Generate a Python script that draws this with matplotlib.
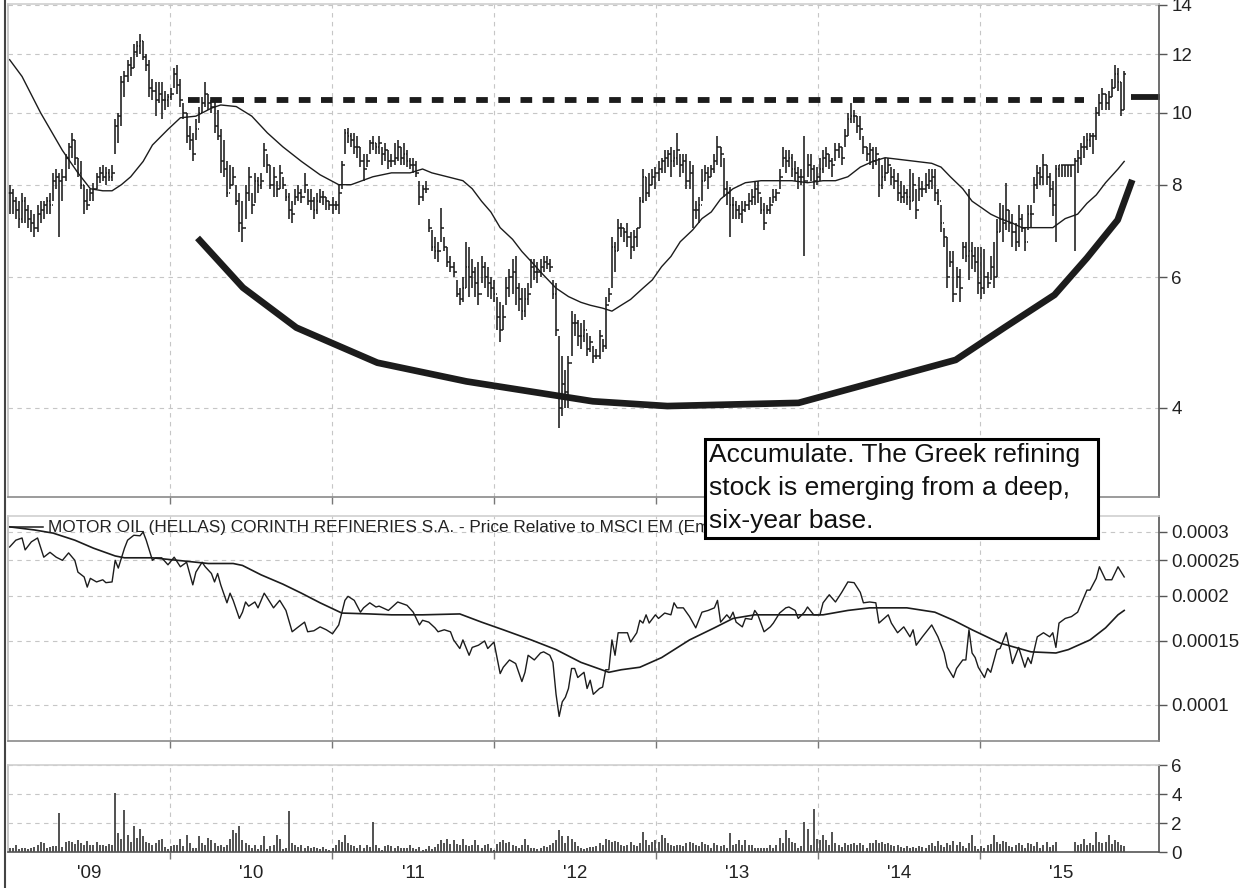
import numpy as np
import matplotlib
matplotlib.use('Agg')
import matplotlib.pyplot as plt
from matplotlib.patches import Rectangle
from matplotlib.lines import Line2D
from matplotlib.ticker import FixedLocator, FixedFormatter, NullLocator

plt.rcParams['font.family'] = ['Liberation Sans', 'DejaVu Sans']

# weekly bars, first week = first week of Jan 2009
high = [
    8.0, 7.9, 7.7, 7.6, 7.8, 7.7, 7.5, 7.4, 7.3, 7.5, 7.6, 7.6, 7.7,
    7.8, 8.3, 8.4, 8.3, 8.4, 8.8, 9.1, 9.4, 9.2, 8.7, 8.6, 8.0, 7.9,
    7.9, 8.05, 8.3, 8.45, 8.5, 8.45, 8.4, 8.5, 9.8, 10.0, 11.2, 11.4, 11.8,
    11.9, 12.4, 12.5, 12.8, 12.5, 12.0, 11.8, 11.1, 11.0, 11.0, 11.0, 10.7, 10.6,
    10.8, 11.5, 11.6, 11.1, 10.3, 10.0, 9.6, 9.4, 9.8, 10.2, 10.5, 11.0, 10.6,
    10.4, 10.4, 10.1, 9.5, 9.2, 8.6, 8.5, 8.45, 8.0, 7.8, 7.6, 8.0, 8.45,
    7.8, 8.3, 8.2, 8.3, 9.1, 8.8, 8.5, 8.45, 8.1, 8.5, 8.2, 7.9, 7.8,
    7.6, 7.9, 8.0, 7.9, 8.3, 7.9, 7.9, 7.7, 7.8, 7.9, 7.85, 7.7, 7.6,
    7.7, 7.6, 8.0, 8.6, 9.5, 9.55, 9.4, 9.4, 9.3, 9.0, 8.8, 8.8, 9.2,
    9.3, 9.1, 9.3, 9.0, 9.1, 8.9, 8.8, 9.1, 9.2, 9.0, 9.1, 8.9, 8.7,
    8.7, 8.6, 8.1, 8.0, 8.1, 7.2, 6.95, 6.8, 6.7, 7.45, 6.8, 6.6, 6.4,
    6.3, 5.95, 5.8, 6.0, 6.7, 6.6, 6.35, 6.2, 6.3, 6.4, 6.3, 6.2, 6.0, 5.95,
    5.65, 5.55, 5.5, 6.0, 6.15, 6.35, 6.4, 5.9, 5.8, 5.8, 5.9, 6.35, 6.35,
    6.3, 6.35, 6.4, 6.4, 6.35, 5.95, 5.9, 5.0, 4.7, 4.5, 4.7, 5.4, 5.35,
    5.25, 5.2, 5.25, 5.05, 5.0, 4.85, 4.8, 5.1, 4.95, 5.65, 5.8, 6.8, 6.7,
    7.2, 7.1, 7.0, 7.1, 6.9, 6.95, 7.0, 7.7, 8.4, 8.2, 8.3, 8.4, 8.45,
    8.6, 8.7, 8.9, 8.9, 9.0, 8.9, 9.4, 8.8, 8.8, 8.8, 8.6, 8.5, 7.6,
    7.7, 8.4, 8.5, 8.45, 8.5, 8.8, 9.3, 9.0, 8.7, 8.1, 7.95, 7.7, 7.6,
    7.5, 7.6, 7.6, 7.8, 7.9, 8.1, 8.1, 7.7, 7.55, 7.5, 7.7, 7.9, 7.9,
    8.4, 9.0, 8.9, 8.9, 8.8, 8.6, 8.45, 8.4, 9.3, 8.8, 8.8, 8.5, 8.45, 8.7,
    8.9, 9.0, 8.8, 8.7, 9.1, 9.1, 9.0, 9.5, 10.0, 10.3, 10.1, 9.9, 9.9,
    9.3, 9.0, 9.1, 9.0, 9.0, 8.7, 8.5, 8.7, 8.7, 8.45, 8.4, 8.3, 8.1,
    8.0, 7.9, 8.4, 8.3, 7.9, 8.2, 8.1, 8.3, 8.4, 8.4, 8.4, 7.9, 7.5,
    7.0, 6.8, 6.5, 6.5, 6.2, 6.15, 6.7, 6.7, 7.9, 6.7, 6.6, 6.6, 6.6,
    6.55, 6.1, 6.4, 6.7, 7.2, 7.55, 7.5, 8.05, 7.4, 7.3, 7.1, 7.5, 7.3,
    7.0, 7.5, 7.5, 8.2, 8.5, 8.45, 8.8, 8.5, 8.3, 8.1, 8.5, 8.5, 8.5,
    8.5, 8.5, 8.5, 8.7, 8.9, 9.1, 9.3, 9.4, 9.4, 9.4, 10.2, 10.6, 10.8,
    10.6, 10.7, 11.1, 11.6, 11.5, 11.0, 11.4,
]
low = [
    7.3, 7.3, 7.2, 7.0, 7.1, 7.1, 7.0, 6.9, 6.8, 6.9, 7.1, 7.2, 7.3,
    7.3, 7.6, 7.9, 6.8, 7.6, 8.1, 8.4, 8.7, 8.5, 8.2, 7.9, 7.3, 7.4,
    7.6, 7.6, 7.9, 8.05, 8.1, 8.0, 8.1, 8.1, 8.8, 9.1, 9.6, 10.5, 11.0,
    11.2, 11.5, 11.9, 12.0, 11.8, 11.4, 10.5, 10.4, 9.9, 10.3, 9.8, 10.1, 10.2,
    10.4, 10.8, 10.6, 10.2, 9.8, 9.1, 8.9, 8.6, 9.2, 9.7, 10.0, 10.2, 10.1,
    10.0, 9.4, 9.2, 8.3, 8.2, 7.7, 7.9, 8.0, 7.5, 6.9, 6.7, 7.2, 7.6,
    7.3, 7.55, 7.8, 7.9, 8.45, 8.3, 7.9, 7.7, 7.7, 7.9, 7.9, 7.6, 7.2,
    7.1, 7.5, 7.6, 7.55, 7.8, 7.5, 7.4, 7.2, 7.3, 7.55, 7.5, 7.4, 7.4,
    7.3, 7.4, 7.3, 7.9, 8.8, 9.1, 9.0, 8.8, 8.7, 8.45, 8.1, 8.45, 8.8,
    8.9, 8.8, 8.8, 8.5, 8.6, 8.4, 8.45, 8.5, 8.6, 8.5, 8.5, 8.45, 8.4,
    8.3, 8.2, 7.5, 7.6, 7.8, 6.9, 6.5, 6.35, 6.3, 6.7, 6.5, 6.2, 6.1,
    6.0, 5.65, 5.5, 5.55, 5.8, 5.65, 5.8, 5.65, 5.5, 5.9, 5.8, 5.65, 5.6, 5.55,
    5.1, 4.9, 5.1, 5.5, 5.65, 5.7, 5.5, 5.4, 5.25, 5.3, 5.5, 5.8, 5.95,
    5.9, 6.0, 6.1, 6.15, 6.1, 5.6, 5.0, 3.75, 3.9, 4.0, 4.0, 4.7, 5.0,
    4.85, 4.8, 4.9, 4.7, 4.75, 4.6, 4.65, 4.65, 4.75, 4.8, 5.55, 5.8, 6.1,
    6.5, 6.8, 6.7, 6.6, 6.35, 6.5, 6.6, 7.0, 7.55, 7.6, 7.7, 8.0, 7.9,
    8.1, 8.3, 8.3, 8.45, 8.2, 8.45, 8.5, 8.2, 8.3, 7.9, 7.9, 7.0, 7.2,
    7.1, 7.6, 8.1, 7.9, 8.2, 8.3, 8.5, 8.45, 7.7, 7.5, 6.8, 7.2, 7.2,
    7.2, 7.1, 7.35, 7.4, 7.5, 7.5, 7.55, 7.3, 6.95, 7.3, 7.3, 7.55, 7.6,
    7.9, 8.45, 8.3, 8.45, 8.2, 8.1, 7.9, 8.0, 6.4, 8.2, 8.1, 7.9, 8.0, 8.1,
    8.3, 8.45, 8.4, 8.2, 8.6, 8.7, 8.5, 9.0, 9.3, 9.7, 9.7, 9.4, 9.2,
    8.8, 8.6, 8.5, 8.4, 8.5, 7.7, 7.9, 8.1, 8.3, 8.0, 7.9, 7.6, 7.55,
    7.55, 7.5, 7.4, 7.6, 7.2, 7.6, 7.7, 7.8, 7.9, 7.9, 7.6, 7.5, 6.9,
    6.6, 5.8, 6.2, 5.55, 5.8, 5.55, 6.35, 6.3, 5.95, 6.15, 6.1, 5.7, 5.6,
    5.7, 5.8, 5.95, 5.8, 6.0, 6.9, 6.7, 6.95, 6.9, 6.6, 6.5, 6.6, 6.9,
    6.5, 6.95, 7.0, 7.55, 7.9, 8.0, 8.0, 8.0, 7.7, 7.25, 6.7, 8.2, 8.2,
    8.2, 8.2, 8.2, 6.5, 8.3, 8.5, 8.7, 8.9, 9.0, 8.8, 9.2, 9.9, 10.1,
    10.1, 10.1, 10.5, 10.8, 10.7, 9.9, 10.1,
]
close = [
    7.8, 7.6, 7.4, 7.2, 7.6, 7.4, 7.2, 7.1, 7.0, 7.3, 7.4, 7.5, 7.6,
    7.5, 8.1, 8.2, 8.1, 8.2, 8.7, 9.0, 9.2, 8.7, 8.3, 8.0, 7.6, 7.5,
    7.8, 7.9, 8.2, 8.3, 8.2, 8.3, 8.2, 8.3, 9.6, 9.9, 11.0, 11.2, 11.6,
    11.5, 12.1, 12.3, 12.5, 11.9, 11.6, 10.8, 10.7, 10.4, 10.6, 10.4, 10.4, 10.5,
    10.6, 11.3, 10.9, 10.4, 10.0, 9.3, 9.2, 8.8, 9.5, 10.0, 10.3, 10.6, 10.3,
    10.2, 9.6, 9.3, 8.6, 8.4, 7.8, 8.0, 8.2, 7.6, 7.1, 7.0, 7.8, 8.2,
    7.5, 8.1, 8.0, 8.1, 8.9, 8.5, 8.0, 8.2, 7.9, 8.3, 8.0, 7.7, 7.4,
    7.3, 7.7, 7.8, 7.7, 8.0, 7.6, 7.6, 7.4, 7.6, 7.7, 7.7, 7.6, 7.5,
    7.5, 7.5, 7.8, 8.5, 9.4, 9.3, 9.2, 9.0, 9.0, 8.6, 8.4, 8.6, 9.1,
    9.1, 9.0, 9.1, 8.8, 8.9, 8.6, 8.6, 8.7, 9.0, 8.7, 8.8, 8.6, 8.5,
    8.5, 8.3, 7.7, 7.9, 7.9, 7.0, 6.6, 6.5, 6.5, 7.0, 6.6, 6.3, 6.2,
    6.1, 5.7, 5.6, 5.8, 6.2, 6.0, 6.1, 5.9, 5.7, 6.2, 6.0, 5.9, 5.8, 5.7,
    5.3, 5.1, 5.3, 5.8, 6.0, 6.1, 5.8, 5.6, 5.4, 5.6, 5.7, 6.2, 6.1,
    6.1, 6.2, 6.3, 6.25, 6.2, 5.7, 5.1, 4.0, 4.3, 4.2, 4.6, 5.2, 5.2,
    5.0, 5.0, 5.1, 4.8, 4.9, 4.7, 4.7, 5.0, 4.85, 5.5, 5.7, 6.6, 6.5,
    7.0, 7.0, 6.9, 6.8, 6.6, 6.8, 7.0, 7.6, 8.2, 7.8, 8.0, 8.2, 8.3,
    8.4, 8.6, 8.7, 8.8, 8.6, 8.7, 8.9, 8.5, 8.6, 8.1, 8.3, 7.4, 7.4,
    7.5, 8.1, 8.3, 8.2, 8.4, 8.6, 9.0, 8.8, 7.9, 7.8, 7.5, 7.5, 7.4,
    7.3, 7.4, 7.5, 7.6, 7.7, 7.9, 7.8, 7.4, 7.1, 7.4, 7.5, 7.7, 7.8,
    8.2, 8.7, 8.6, 8.7, 8.4, 8.3, 8.2, 8.2, 8.1, 8.5, 8.4, 8.1, 8.2, 8.4,
    8.7, 8.8, 8.6, 8.5, 8.9, 9.0, 8.7, 9.3, 9.8, 9.9, 9.9, 9.6, 9.5,
    9.0, 8.8, 8.9, 8.6, 8.8, 8.0, 8.2, 8.3, 8.5, 8.2, 8.1, 7.8, 7.7,
    7.8, 7.7, 7.6, 8.0, 7.4, 7.9, 7.9, 8.0, 8.1, 8.2, 7.8, 7.6, 7.1,
    6.8, 6.0, 6.3, 5.7, 6.0, 5.8, 6.6, 6.4, 6.5, 6.4, 6.3, 5.9, 5.8,
    6.0, 5.9, 6.2, 6.0, 6.9, 7.2, 7.1, 7.4, 7.1, 6.9, 6.7, 7.2, 7.0,
    6.7, 7.3, 7.3, 8.0, 8.3, 8.2, 8.5, 8.2, 7.9, 7.5, 8.4, 8.5, 8.5,
    8.5, 8.5, 8.5, 8.6, 8.7, 9.0, 9.0, 9.2, 9.3, 9.3, 10.0, 10.3, 10.6,
    10.3, 10.5, 10.8, 11.3, 11.0, 10.1, 11.3,
]

# moving average of price (week index, value)
ma_week = [0, 4, 10, 17, 22, 26, 30, 33, 36, 39,
           43, 46, 51, 55, 60, 65, 68, 73, 78, 83,
           88, 94, 100, 106, 110, 117, 123, 129, 133, 136,
           141, 146, 149, 152, 155, 158, 162, 165, 168, 171,
           176, 180, 184, 187, 191, 194, 197, 200, 204, 207,
           210, 213, 216, 220, 223, 226, 229, 233, 237, 242,
           247, 252, 257, 262, 266, 270, 274, 278, 282, 287,
           292, 297, 300, 303, 307, 310, 313, 316, 319, 323,
           326, 329, 332, 336, 340, 344, 347, 350, 353, 357, 359]
ma_price = [11.8, 11.2, 10.0, 8.9, 8.3, 7.9, 7.85, 7.85, 8.0, 8.2,
            8.6, 9.05, 9.5, 9.85, 9.9, 10.15, 10.25, 10.2, 9.9, 9.4,
            9.0, 8.6, 8.25, 8.0, 8.0, 8.2, 8.3, 8.3, 8.4, 8.3,
            8.2, 8.1, 7.9, 7.6, 7.35, 7.0, 6.75, 6.5, 6.3, 6.1,
            5.8, 5.65, 5.55, 5.5, 5.45, 5.4, 5.5, 5.6, 5.8, 5.95,
            6.2, 6.4, 6.7, 6.95, 7.2, 7.35, 7.65, 7.9, 8.05, 8.1,
            8.1, 8.1, 8.05, 8.1, 8.1, 8.2, 8.45, 8.6, 8.7, 8.65,
            8.6, 8.55, 8.45, 8.2, 7.9, 7.6, 7.45, 7.3, 7.2, 7.1,
            7.0, 7.0, 7.0, 7.0, 7.2, 7.3, 7.55, 7.75, 8.05, 8.4, 8.6]

# price relative to MSCI EM, in units of 1e-4
rel_week = [0, 2, 4, 5, 7, 9, 11, 13, 15, 17,
            19, 21, 22, 24, 25, 26, 28, 30, 31, 33,
            34, 35, 37, 38, 40, 42, 43, 44, 46, 47,
            49, 51, 53, 55, 57, 59, 60, 62, 63, 65,
            66, 67, 68, 70, 71, 72, 74, 75, 76, 77,
            79, 80, 82, 83, 85, 87, 89, 91, 93, 95,
            96, 98, 100, 102, 104, 106, 108, 109, 111, 113,
            114, 116, 118, 119, 122, 125, 128, 130, 132, 133,
            135, 137, 138, 140, 142, 143, 145, 146, 148, 149,
            151, 153, 154, 156, 157, 158, 159, 161, 163, 165,
            166, 167, 169, 171, 172, 174, 175, 176, 177, 178,
            179, 180, 181, 182, 183, 185, 186, 187, 188, 190,
            191, 192, 193, 194, 195, 196, 198, 199, 200, 202,
            203, 204, 205, 206, 208, 209, 211, 213, 214, 215,
            217, 219, 221, 223, 225, 227, 228, 229, 231, 232,
            233, 234, 236, 237, 239, 240, 241, 243, 245, 246,
            248, 250, 251, 253, 254, 256, 257, 259, 261, 262,
            264, 266, 268, 270, 272, 274, 275, 277, 279, 280,
            281, 283, 284, 286, 288, 290, 291, 292, 294, 297,
            299, 301, 302, 304, 305, 307, 308, 309, 310, 311,
            312, 314, 315, 316, 318, 319, 321, 322, 323, 325,
            327, 328, 329, 331, 333, 335, 336, 337, 338, 340,
            342, 344, 347, 348, 350, 351, 353, 355, 357, 359]
rel_value = [2.72, 2.84, 2.88, 2.67, 2.81, 2.88, 2.55, 2.63, 2.55, 2.50,
             2.62, 2.50, 2.32, 2.25, 2.11, 2.23, 2.18, 2.21, 2.17, 2.18,
             2.50, 2.38, 2.70, 2.84, 2.93, 2.92, 2.99, 2.84, 2.50, 2.54,
             2.54, 2.43, 2.55, 2.40, 2.47, 2.14, 2.32, 2.47, 2.40, 2.30,
             2.18, 2.30, 2.14, 1.91, 2.03, 1.94, 1.73, 1.80, 1.92, 1.87,
             1.92, 1.85, 2.03, 1.97, 1.85, 1.94, 1.82, 1.59, 1.64, 1.69,
             1.59, 1.60, 1.64, 1.61, 1.57, 1.66, 1.94, 1.99, 1.94, 1.80,
             1.85, 1.91, 1.86, 1.87, 1.82, 1.92, 1.88, 1.80, 1.66, 1.71,
             1.69, 1.63, 1.59, 1.61, 1.59, 1.51, 1.43, 1.51, 1.37, 1.44,
             1.46, 1.50, 1.43, 1.49, 1.35, 1.22, 1.27, 1.33, 1.30, 1.16,
             1.23, 1.37, 1.33, 1.39, 1.40, 1.37, 1.31, 1.07, 0.93, 1.02,
             1.05, 1.11, 1.26, 1.26, 1.19, 1.23, 1.11, 1.17, 1.07, 1.11,
             1.12, 1.25, 1.25, 1.51, 1.37, 1.58, 1.58, 1.58, 1.49, 1.58,
             1.71, 1.68, 1.77, 1.68, 1.77, 1.73, 1.79, 1.77, 1.91, 1.85,
             1.85, 1.75, 1.63, 1.80, 1.82, 1.85, 1.94, 1.69, 1.77, 1.73,
             1.80, 1.69, 1.64, 1.73, 1.72, 1.82, 1.77, 1.59, 1.64, 1.68,
             1.79, 1.85, 1.86, 1.82, 1.73, 1.80, 1.86, 1.77, 1.77, 1.91,
             2.01, 1.92, 2.04, 2.18, 2.17, 2.04, 1.91, 1.92, 1.91, 1.68,
             1.71, 1.77, 1.68, 1.58, 1.64, 1.54, 1.61, 1.46, 1.54, 1.66,
             1.54, 1.39, 1.27, 1.19, 1.26, 1.33, 1.33, 1.61, 1.39, 1.35,
             1.27, 1.19, 1.26, 1.23, 1.42, 1.43, 1.58, 1.44, 1.30, 1.44,
             1.27, 1.35, 1.30, 1.54, 1.58, 1.54, 1.58, 1.44, 1.68, 1.73,
             1.75, 1.80, 2.07, 2.07, 2.23, 2.40, 2.21, 2.21, 2.40, 2.25]

# moving average of the relative line (week index, 1e-4)
rel_ma_week = [0, 8, 14, 21, 27, 34, 37, 46, 56, 64,
               72, 75, 81, 88, 94, 100, 107, 116, 123, 133,
               145, 152, 159, 168, 176, 184, 193, 197, 203, 210,
               219, 227, 233, 240, 251, 262, 270, 277, 289, 298,
               304, 310, 319, 329, 337, 341, 348, 353, 357, 359]
rel_ma_value = [3.09, 3.03, 2.97, 2.84, 2.70, 2.57, 2.54, 2.54, 2.49, 2.45,
                2.45, 2.42, 2.28, 2.15, 2.03, 1.91, 1.79, 1.78, 1.77, 1.77,
                1.78, 1.69, 1.61, 1.51, 1.42, 1.31, 1.23, 1.25, 1.27, 1.35,
                1.51, 1.63, 1.73, 1.77, 1.77, 1.77, 1.82, 1.85, 1.85, 1.80,
                1.71, 1.61, 1.48, 1.40, 1.39, 1.42, 1.51, 1.63, 1.77, 1.82]

# weekly volume
volume = [
    0.25, 0.3, 0.45, 0.2, 0.25, 0.3, 0.2, 0.3, 0.35, 0.5, 0.7, 0.65, 0.3,
    0.35, 0.4, 0.4, 2.7, 0.35, 0.7, 0.75, 0.7, 0.55, 0.8, 0.6, 0.45, 0.75,
    0.5, 0.45, 0.7, 0.5, 0.45, 0.4, 0.55, 0.5, 4.1, 1.3, 0.9, 2.9, 1.2,
    0.7, 1.8, 1.0, 1.6, 1.1, 0.7, 0.65, 0.5, 0.6, 0.8, 0.9, 0.35, 0.2,
    0.4, 0.5, 0.5, 0.9, 0.4, 1.2, 0.65, 0.3, 0.25, 1.1, 0.6, 0.5, 1.0,
    0.8, 0.6, 0.4, 0.45, 0.35, 0.5, 0.9, 1.5, 1.3, 1.8, 0.8, 0.6, 0.5,
    0.3, 0.45, 0.2, 0.5, 1.1, 0.2, 0.4, 0.5, 1.2, 0.9, 0.2, 0.3, 2.8,
    0.6, 0.45, 0.35, 0.5, 0.3, 0.4, 0.3, 0.35, 0.3, 0.2, 0.35, 0.2, 0.15,
    0.3, 0.5, 0.8, 0.7, 1.2, 0.6, 0.5, 0.4, 0.3, 0.45, 0.3, 0.5, 0.35,
    2.1, 0.45, 0.3, 0.15, 0.4, 0.45, 0.4, 0.3, 0.4, 0.25, 0.3, 0.25, 0.45,
    0.3, 0.2, 0.35, 0.15, 0.2, 0.4, 0.2, 0.35, 0.55, 0.8, 0.6, 0.9, 0.55,
    0.85, 0.55, 0.45, 0.9, 0.45, 0.4, 0.5, 0.8, 0.45, 0.3, 0.45, 0.55, 0.3, 0.15,
    0.55, 0.7, 0.8, 0.6, 0.7, 0.5, 0.4, 0.3, 0.45, 0.9, 0.45, 0.3, 0.3,
    0.2, 0.3, 0.4, 0.35, 0.45, 0.6, 0.8, 1.5, 1.1, 0.6, 1.1, 0.9, 0.7,
    0.4, 0.3, 0.2, 0.3, 0.35, 0.35, 0.4, 0.6, 0.5, 0.9, 0.85, 0.7, 0.75,
    0.7, 0.5, 0.4, 0.45, 0.7, 0.5, 0.4, 0.6, 1.4, 0.8, 0.5, 0.7, 0.8,
    0.7, 1.2, 1.0, 0.6, 0.5, 0.4, 0.5, 0.5, 0.4, 0.6, 0.7, 0.6, 0.5,
    0.4, 0.7, 0.55, 0.5, 0.3, 0.65, 0.45, 0.4, 0.45, 0.3, 1.3, 0.45, 0.55,
    0.8, 0.5, 0.8, 0.5, 0.45, 0.3, 0.3, 0.25, 0.3, 0.3, 0.5, 0.3, 0.5,
    1.0, 0.6, 1.5, 1.0, 0.7, 0.6, 0.3, 0.4, 2.1, 1.6, 0.5, 3.0, 0.9, 0.8,
    1.2, 0.8, 0.5, 1.4, 0.6, 0.45, 0.35, 0.6, 0.5, 0.55, 0.6, 0.45, 0.65,
    0.5, 0.3, 0.6, 0.65, 0.8, 0.6, 0.7, 0.55, 0.6, 0.45, 0.4, 0.45, 0.35,
    0.3, 0.4, 0.3, 0.35, 0.25, 0.4, 0.35, 0.3, 0.5, 0.6, 0.4, 0.75, 0.5,
    0.35, 0.6, 0.45, 0.75, 0.5, 0.7, 0.4, 0.3, 0.6, 1.15, 0.4, 0.2, 0.4,
    0.3, 0.5, 0.55, 1.2, 0.7, 0.55, 0.75, 0.7, 0.4, 0.35, 0.5, 0.6, 0.45,
    0.3, 0.6, 0.55, 0.4, 0.7, 0.3, 0.45, 0.7, 0.35, 0.5, 0.7, 0.0, 0.0,
    0.0, 0.0, 0.0, 0.7, 0.5, 0.55, 0.9, 0.45, 0.6, 0.5, 1.4, 0.7, 0.6,
    0.7, 1.2, 0.55, 0.8, 0.7, 0.5, 0.4,
]

# hand-drawn base curve and resistance (decimal years, price)
base_year = [2010.17, 2010.45, 2010.78, 2011.28, 2011.83, 2012.61, 2013.07,
             2013.88, 2014.85, 2015.15, 2015.46, 2015.66, 2015.85, 2015.94]
base_price = [6.78, 5.81, 5.13, 4.60, 4.34, 4.08, 4.02,
              4.06, 4.64, 5.13, 5.68, 6.37, 7.17, 8.12]
resistance_years = [2010.11, 2015.64]
resistance_price = 10.4
last_mark_years = [2015.93, 2016.11]
last_mark_price = 10.5

year_starts = [2010, 2011, 2012, 2013, 2014, 2015]
year_mids = [2009.5, 2010.5, 2011.5, 2012.5, 2013.5, 2014.5, 2015.5]
year_labels = ["'09", "'10", "'11", "'12", "'13", "'14", "'15"]
price_ticks = [4, 6, 8, 10, 12, 14]
rel_ticks = [0.0001, 0.00015, 0.0002, 0.00025, 0.0003]
rel_tick_labels = ['0.0001', '0.00015', '0.0002', '0.00025', '0.0003']
vol_ticks = [0, 2, 4, 6]

legend_text = ('MOTOR OIL (HELLAS) CORINTH REFINERIES S.A. - Price Relative to '
               'MSCI EM (Emerging Markets)')
note_text = ('Accumulate. The Greek refining\nstock is emerging from a deep,\n'
             'six-year base.')


def week_to_year(w):
    return 2009.01 + np.asarray(w, dtype=float) * 7 / 365.25


INK = '#1c1c1c'
GRID = '#c6c6c6'

fig = plt.figure(figsize=(12.47, 8.88), dpi=100)
W, H = 1247, 888
left, right = 8, 1159
box_l, box_r, box_t, box_b = 705, 1098, 439, 538


def panel(top, bottom):
    return fig.add_axes([left / W, 1 - bottom / H, (right - left) / W, (bottom - top) / H])


ax1 = panel(4, 497)
ax2 = panel(516, 741)
ax3 = panel(765, 852)

for ax in (ax1, ax2, ax3):
    ax.set_xlim(2009.0, 2016.105)
    ax.xaxis.set_major_locator(FixedLocator(year_starts))
    ax.xaxis.set_major_formatter(FixedFormatter([''] * len(year_starts)))
    ax.yaxis.tick_right()
    ax.tick_params(axis='x', which='major', direction='out', length=5,
                   color='#777777', width=1.0)
    ax.tick_params(axis='y', which='both', direction='out', length=6,
                   color='#555555', width=1.0, labelsize=13.5,
                   labelcolor='#222222', pad=3)
    ax.grid(True, which='major', color=GRID, linestyle=(0, (4, 4)), lw=0.8)
    ax.set_axisbelow(True)
    ax.spines['top'].set_color('#cfcfcf')
    ax.spines['left'].set_color('#bdbdbd')
    ax.spines['right'].set_color('#555555')
    ax.spines['bottom'].set_color('#8a8a8a')
    for s in ax.spines.values():
        s.set_linewidth(1.2)

# ---- top panel: price bars
x = week_to_year(np.arange(len(close)))
opens = [close[0]] + close[:-1]
d = 0.009
ax1.vlines(x, low, high, color=INK, lw=1.15)
ax1.hlines(opens, x - d, x, color=INK, lw=1.1)
ax1.hlines(close, x, x + d, color=INK, lw=1.1)
ax1.plot(week_to_year(ma_week), ma_price, color=INK, lw=1.0)
ax1.plot(resistance_years, [resistance_price] * 2, color=INK, lw=4.2,
         dashes=(2.0, 1.8), solid_capstyle='butt')
ax1.plot(last_mark_years, [last_mark_price] * 2, color=INK, lw=4.2,
         solid_capstyle='butt', clip_on=False)
ax1.plot(base_year, base_price, color=INK, lw=4.8, solid_joinstyle='round',
         solid_capstyle='butt')
ax1.set_yscale('log')
ax1.set_ylim(3.03, 14.03)
ax1.yaxis.set_major_locator(FixedLocator(price_ticks))
ax1.yaxis.set_major_formatter(FixedFormatter([str(t) for t in price_ticks]))
ax1.yaxis.set_minor_locator(NullLocator())

# ---- middle panel: relative strength
ax2.plot(week_to_year(rel_week), np.array(rel_value) * 1e-4, color=INK, lw=1.0)
ax2.plot(week_to_year(rel_ma_week), np.array(rel_ma_value) * 1e-4, color=INK, lw=1.2)
ax2.set_yscale('log')
ax2.set_ylim(0.796e-4, 3.31e-4)
ax2.yaxis.set_major_locator(FixedLocator(rel_ticks))
ax2.yaxis.set_major_formatter(FixedFormatter(rel_tick_labels))
ax2.yaxis.set_minor_locator(NullLocator())
ax2.add_line(Line2D([0.002, 0.030], [0.951, 0.951], color=INK, lw=1.1,
                    transform=ax2.transAxes))
legend = ax2.text(0.0348, 0.951, legend_text, transform=ax2.transAxes,
                  fontsize=12.4, color='#222222', ha='left', va='center')
# the comment box hides the end of the legend: clip it at the box edge
legend.set_clip_path(Rectangle((0, 0), (box_l - left) / (right - left), 1,
                               transform=ax2.transAxes))

# ---- bottom panel: volume
ax3.vlines(x, 0, volume, color='#333333', lw=1.2)
ax3.set_ylim(0, 6)
ax3.yaxis.set_major_locator(FixedLocator(vol_ticks))
ax3.yaxis.set_major_formatter(FixedFormatter([str(t) for t in vol_ticks]))
ax3.spines['bottom'].set_color('#555555')
ax3.xaxis.set_minor_locator(FixedLocator(year_mids))
ax3.xaxis.set_minor_formatter(FixedFormatter(year_labels))
ax3.tick_params(axis='x', which='minor', length=0, labelsize=13.5,
                labelcolor='#222222', pad=9)

# figure left border
fig.add_artist(Line2D([5 / W, 5 / W], [0, 1], color='#444444', lw=1.5,
                      transform=fig.transFigure))

# comment box
fig.add_artist(Rectangle((box_l / W, 1 - box_b / H), (box_r - box_l) / W,
                         (box_b - box_t) / H, facecolor='white',
                         edgecolor='black', lw=2.2,
                         transform=fig.transFigure, zorder=10))
fig.text(709 / W, 1 - 488 / H, note_text, ha='left', va='center', fontsize=19,
         linespacing=1.46, color='#111111', zorder=11)

fig.savefig('out.png', dpi=100)
